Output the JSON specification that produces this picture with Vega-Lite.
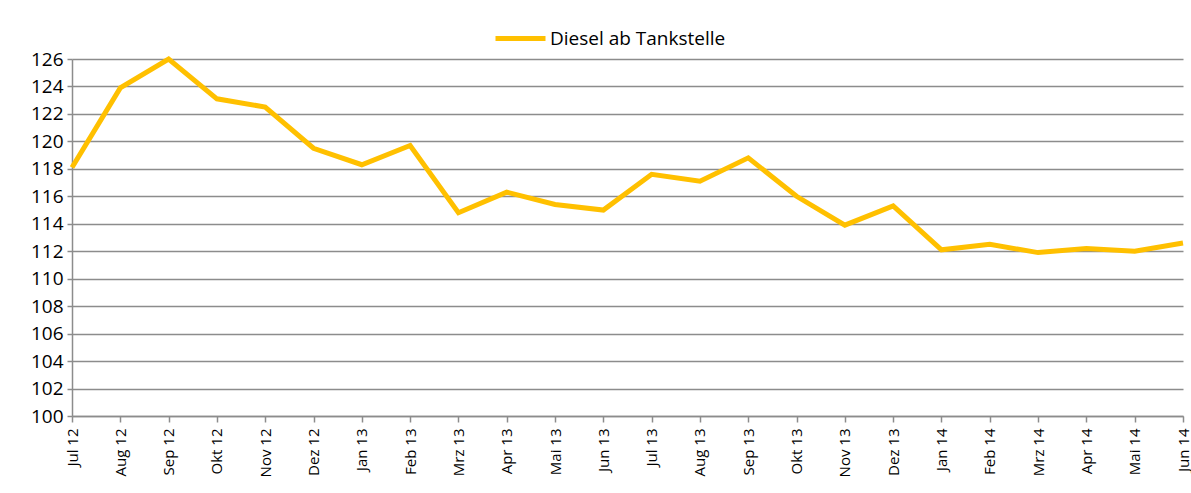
{
  "$schema": "https://vega.github.io/schema/vega-lite/v6.json",
  "autosize": "none",
  "width": 1111,
  "height": 357,
  "padding": {"left": 72, "top": 59, "right": 8, "bottom": 77},
  "background": "white",
  "config": {
    "view": {"stroke": null},
    "font": "Open Sans",
    "axis": {"labelColor": "#000000", "domainColor": "#8c8c8c", "tickColor": "#8c8c8c", "gridColor": "#8c8c8c", "domainWidth": 1.5, "tickWidth": 1.5, "gridWidth": 1.5, "gridOpacity": 1}
  },
  "data": {
    "values": [
      {"monat": "Jul 12", "wert": 118.1, "serie": "Diesel ab Tankstelle"},
      {"monat": "Aug 12", "wert": 123.9, "serie": "Diesel ab Tankstelle"},
      {"monat": "Sep 12", "wert": 126.0, "serie": "Diesel ab Tankstelle"},
      {"monat": "Okt 12", "wert": 123.1, "serie": "Diesel ab Tankstelle"},
      {"monat": "Nov 12", "wert": 122.5, "serie": "Diesel ab Tankstelle"},
      {"monat": "Dez 12", "wert": 119.5, "serie": "Diesel ab Tankstelle"},
      {"monat": "Jan 13", "wert": 118.3, "serie": "Diesel ab Tankstelle"},
      {"monat": "Feb 13", "wert": 119.7, "serie": "Diesel ab Tankstelle"},
      {"monat": "Mrz 13", "wert": 114.8, "serie": "Diesel ab Tankstelle"},
      {"monat": "Apr 13", "wert": 116.3, "serie": "Diesel ab Tankstelle"},
      {"monat": "Mai 13", "wert": 115.4, "serie": "Diesel ab Tankstelle"},
      {"monat": "Jun 13", "wert": 115.0, "serie": "Diesel ab Tankstelle"},
      {"monat": "Jul 13", "wert": 117.6, "serie": "Diesel ab Tankstelle"},
      {"monat": "Aug 13", "wert": 117.1, "serie": "Diesel ab Tankstelle"},
      {"monat": "Sep 13", "wert": 118.8, "serie": "Diesel ab Tankstelle"},
      {"monat": "Okt 13", "wert": 116.0, "serie": "Diesel ab Tankstelle"},
      {"monat": "Nov 13", "wert": 113.9, "serie": "Diesel ab Tankstelle"},
      {"monat": "Dez 13", "wert": 115.3, "serie": "Diesel ab Tankstelle"},
      {"monat": "Jan 14", "wert": 112.1, "serie": "Diesel ab Tankstelle"},
      {"monat": "Feb 14", "wert": 112.5, "serie": "Diesel ab Tankstelle"},
      {"monat": "Mrz 14", "wert": 111.9, "serie": "Diesel ab Tankstelle"},
      {"monat": "Apr 14", "wert": 112.2, "serie": "Diesel ab Tankstelle"},
      {"monat": "Mai 14", "wert": 112.0, "serie": "Diesel ab Tankstelle"},
      {"monat": "Jun 14", "wert": 112.6, "serie": "Diesel ab Tankstelle"}
    ]
  },
  "mark": {"type": "line", "strokeWidth": 5, "strokeJoin": "miter", "strokeCap": "butt"},
  "encoding": {
    "x": {
      "field": "monat", "type": "ordinal", "sort": null,
      "scale": {"type": "point", "padding": 0},
      "axis": {"title": null, "labelAngle": -90, "labelFontSize": 15, "labelPadding": 6, "tickSize": 6, "grid": false, "labelBaseline": "middle", "labelAlign": "right"}
    },
    "y": {
      "field": "wert", "type": "quantitative",
      "scale": {"domain": [100, 126], "nice": false, "zero": false},
      "axis": {"title": null, "values": [100,102,104,106,108,110,112,114,116,118,120,122,124,126], "labelFontSize": 19, "tickSize": 5, "labelPadding": 4, "grid": true}
    },
    "color": {
      "field": "serie", "type": "nominal",
      "scale": {"range": ["#FFC000"]},
      "legend": {"title": null, "orient": "none", "legendX": 421, "legendY": -48, "direction": "horizontal", "labelFontSize": 19, "labelLimit": 400, "labelColor": "#000000", "symbolType": "stroke", "symbolStrokeWidth": 5, "symbolSize": 2500, "labelOffset": 2}
    }
  }
}
